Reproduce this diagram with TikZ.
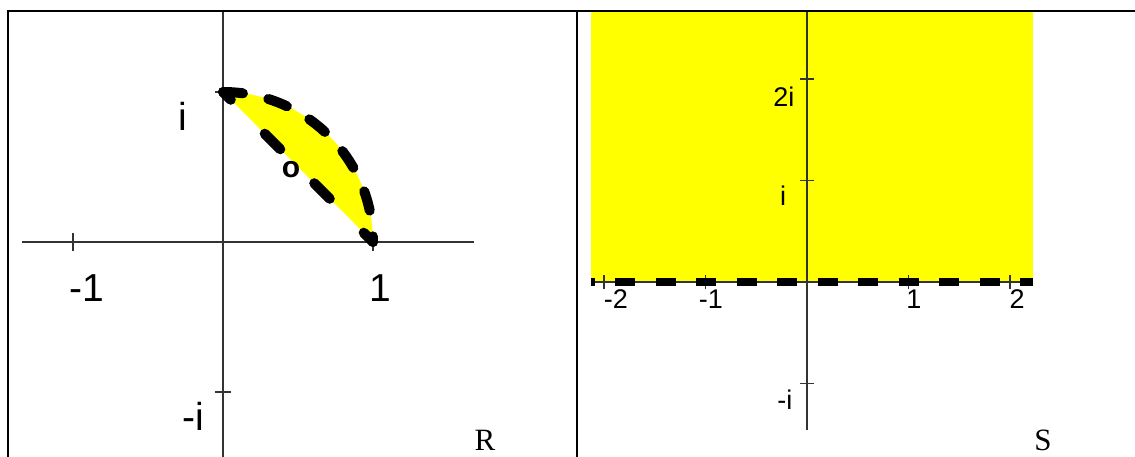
\documentclass[tikz,border=0pt]{standalone}
\usepackage{fontspec}
\setmainfont{Liberation Sans}
\newfontfamily\cellfont{Liberation Serif}
\usetikzlibrary{positioning}
\definecolor{regionyellow}{RGB}{255,255,0}
\tikzset{
tablerule/.style={line width=2pt},
axisline/.style={line width=1.3pt, black!80},
boundarydash/.style={line width=10pt, line cap=round},
biglabel/.style={inner sep=0pt, font=\fontsize{39}{44}\selectfont},
smalllabel/.style={inner sep=0pt, font=\fontsize{27}{32}\selectfont},
celllabel/.style={inner sep=0pt, font=\cellfont\fontsize{31}{34}\selectfont}
}

\begin{document}
\begin{tikzpicture}[x=1pt, y=-1pt]
\useasboundingbox (0,0) rectangle (1135,457);

% left cell: lens between the unit circle and its chord
\begin{scope}[shift={(223,242)}, x=150pt, y=150pt]
\coordinate (rone) at (1,0);
\coordinate (rtop) at (0,1);
\fill[regionyellow] (rtop) arc[start angle=90, end angle=0, radius=1] -- cycle;
\draw[axisline] (-1.34,0) -- (1.673,0);
\draw[axisline] (0,1.54) -- (0,-1.433);
\foreach \t in {-1,1} \draw[axisline] (\t,-0.063) -- (\t,0.063);
\foreach \t in {-1,1} \draw[axisline] (-0.055,\t) -- (0.055,\t);
\draw[boundarydash, dash pattern=on 20pt off 26pt] (rtop) arc[start angle=90, end angle=0, radius=1];
\draw[boundarydash, dash pattern=on 22pt off 48pt, dash phase=11pt] (rtop) -- (rone);
\node[biglabel] (rxm) at (-0.907,-0.307) {-1};
\node[biglabel] (rxp) at (1.047,-0.307) {1};
\node[biglabel] (ryp) at (-0.267,0.84) {i};
\node[biglabel] (rym) at (-0.2,-1.16) {-i};
\node[inner sep=0pt, font=\fontsize{30}{34}\selectfont\bfseries] (rmark) at (0.453,0.48) {o};
\end{scope}
\node[celllabel] (rname) at (485,440) {R};

% right cell: upper half plane
\begin{scope}[shift={(807,282)}, x=101.5pt, y=101.5pt]
\coordinate (sleft) at (-2.128,0);
\coordinate (sright) at (2.227,0);
\fill[regionyellow] (sleft) rectangle (2.227,2.67);
\draw[axisline] (sleft) -- (sright);
\draw[axisline] (0,2.67) -- (0,-1.46);
\foreach \t in {-2,-1,1,2} \draw[axisline] (\t,-0.07) -- (\t,0.07);
\foreach \t in {-1,1,2} \draw[axisline] (-0.07,\t) -- (0.07,\t);
\draw[line width=8pt, dash pattern=on 20pt off 20.5pt, dash phase=16.5pt] (sleft) -- (sright);
\node[smalllabel] (sxm2) at (-1.882,-0.165) {-2};
\node[smalllabel] (sxm1) at (-0.946,-0.165) {-1};
\node[smalllabel] (sxp1) at (1.054,-0.165) {1};
\node[smalllabel] (sxp2) at (2.069,-0.165) {2};
\node[smalllabel] (syp2) at (-0.227,1.825) {2i};
\node[smalllabel] (syp1) at (-0.236,0.847) {i};
\node[smalllabel] (sym1) at (-0.217,-1.163) {-i};
\end{scope}
\node[celllabel] (sname) at (1043,440) {S};

% table rules
\draw[tablerule] (8,457) -- (8,11) -- (1135,11);
\draw[tablerule] (577,11) -- (577,457);
\end{tikzpicture}
\end{document}
